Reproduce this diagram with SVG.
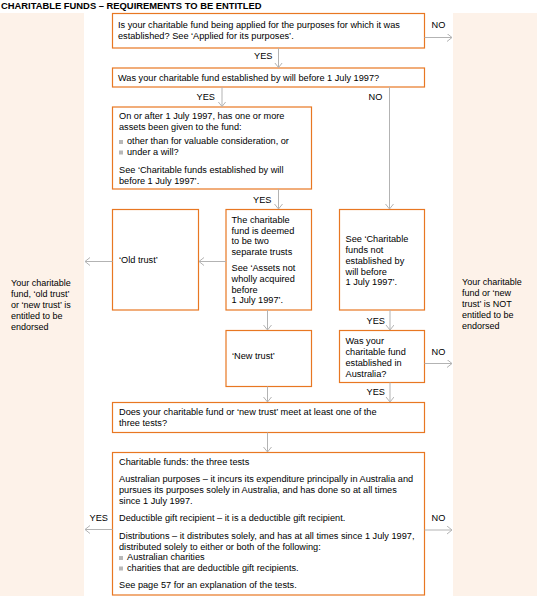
<svg xmlns="http://www.w3.org/2000/svg" width="538" height="598" viewBox="0 0 538 598">
<defs>
<marker id="arr" markerUnits="userSpaceOnUse" markerWidth="8" markerHeight="10" refX="5" refY="4" orient="auto">
<path d="M0,0 L5,4 L0,8" fill="none" stroke="#b3b3b3" stroke-width="1"/>
</marker>
</defs>
<style>
text{font-family:"Liberation Sans",Arial,sans-serif;font-size:9.2px;fill:#000}
.title{font-weight:bold;font-size:9.4px}
.pt{font-size:9px}
.box{fill:#fff;stroke:#e87722;stroke-width:1.2}
.panel{fill:#fdf2e9}
.conn line{stroke:#b3b3b3;stroke-width:1;marker-end:url(#arr)}
.bul{fill:#b8b8b8}
</style>
<rect width="538" height="598" fill="#fff"/>
<text class="title" x="1" y="8.5">CHARITABLE FUNDS – REQUIREMENTS TO BE ENTITLED</text>

<g id="panel-left">
<rect class="panel" x="0" y="13" width="84" height="583"/>
<text class="pt" x="11" y="286">Your charitable</text>
<text class="pt" x="11" y="297">fund, ‘old trust’</text>
<text class="pt" x="11" y="308">or ‘new trust’ is</text>
<text class="pt" x="11" y="319">entitled to be</text>
<text class="pt" x="11" y="330">endorsed</text>
</g>
<g id="panel-right">
<rect class="panel" x="453" y="13" width="84" height="583"/>
<text class="pt" x="462" y="285">Your charitable</text>
<text class="pt" x="462" y="296">fund or ‘new</text>
<text class="pt" x="462" y="307">trust’ is NOT</text>
<text class="pt" x="462" y="318">entitled to be</text>
<text class="pt" x="462" y="329">endorsed</text>
</g>

<g id="q1">
<rect class="box" x="112.5" y="13.5" width="312" height="34.5"/>
<text x="118" y="28">Is your charitable fund being applied for the purposes for which it was</text>
<text x="118" y="39">established? See ‘Applied for its purposes’.</text>
</g>
<g id="q2">
<rect class="box" x="112.5" y="68" width="312" height="19"/>
<text x="118" y="81">Was your charitable fund established by will before 1 July 1997?</text>
</g>
<g id="q3">
<rect class="box" x="112.5" y="107" width="199" height="82"/>
<text x="119" y="119">On or after 1 July 1997, has one or more</text>
<text x="119" y="130">assets been given to the fund:</text>
<rect class="bul" x="119" y="140" width="4" height="4"/>
<text x="127" y="144">other than for valuable consideration, or</text>
<rect class="bul" x="119" y="150.5" width="4" height="4"/>
<text x="127" y="154.5">under a will?</text>
<text x="119" y="172.5">See ‘Charitable funds established by will</text>
<text x="119" y="183.5">before 1 July 1997’.</text>
</g>
<g id="old-trust">
<rect class="box" x="112.5" y="209.5" width="86" height="100.5"/>
<text x="119" y="263">‘Old trust’</text>
</g>
<g id="deemed">
<rect class="box" x="226" y="209.5" width="85.5" height="100.5"/>
<text x="231.5" y="222.5">The charitable</text>
<text x="231.5" y="233.5">fund is deemed</text>
<text x="231.5" y="244">to be two</text>
<text x="231.5" y="255">separate trusts</text>
<text x="231.5" y="271">See ‘Assets not</text>
<text x="231.5" y="282">wholly acquired</text>
<text x="231.5" y="292.5">before</text>
<text x="231.5" y="303">1 July 1997’.</text>
</g>
<g id="not-by-will">
<rect class="box" x="339.5" y="209.5" width="85" height="100.5"/>
<text x="345.5" y="241.5">See ‘Charitable</text>
<text x="345.5" y="252.5">funds not</text>
<text x="345.5" y="263.5">established by</text>
<text x="345.5" y="274.5">will before</text>
<text x="345.5" y="285">1 July 1997’.</text>
</g>
<g id="new-trust">
<rect class="box" x="226" y="330.5" width="85.5" height="56"/>
<text x="232" y="358.5">‘New trust’</text>
</g>
<g id="australia">
<rect class="box" x="339.5" y="330.5" width="85" height="52"/>
<text x="345.5" y="344">Was your</text>
<text x="345.5" y="355">charitable fund</text>
<text x="345.5" y="366">established in</text>
<text x="345.5" y="377">Australia?</text>
</g>
<g id="q-tests">
<rect class="box" x="112.5" y="402.5" width="312" height="30"/>
<text x="119" y="415">Does your charitable fund or ‘new trust’ meet at least one of the</text>
<text x="119" y="426">three tests?</text>
</g>
<g id="tests">
<rect class="box" x="112.5" y="452.5" width="312" height="142.5"/>
<text x="119" y="465">Charitable funds: the three tests</text>
<text x="119" y="481.5">Australian purposes – it incurs its expenditure principally in Australia and</text>
<text x="119" y="492.5">pursues its purposes solely in Australia, and has done so at all times</text>
<text x="119" y="503.5">since 1 July 1997.</text>
<text x="119" y="521">Deductible gift recipient – it is a deductible gift recipient.</text>
<text x="119" y="539">Distributions – it distributes solely, and has at all times since 1 July 1997,</text>
<text x="119" y="549.5">distributed solely to either or both of the following:</text>
<rect class="bul" x="119" y="556" width="4" height="4"/>
<text x="127" y="560">Australian charities</text>
<rect class="bul" x="119" y="566.5" width="4" height="4"/>
<text x="127" y="570.5">charities that are deductible gift recipients.</text>
<text x="119" y="588">See page 57 for an explanation of the tests.</text>
</g>

<g id="connectors" class="conn">
<line x1="424.5" y1="37.5" x2="452" y2="37.5"/>
<line x1="278.5" y1="48" x2="278.5" y2="67.5"/>
<line x1="222" y1="87" x2="222" y2="106.5"/>
<line x1="389.5" y1="87" x2="389.5" y2="209"/>
<line x1="278.5" y1="189" x2="278.5" y2="209"/>
<line x1="226" y1="261.5" x2="199" y2="261.5"/>
<line x1="112.5" y1="261.5" x2="85" y2="261.5"/>
<line x1="267.5" y1="310" x2="267.5" y2="330"/>
<line x1="390" y1="310" x2="390" y2="330"/>
<line x1="424.5" y1="363.5" x2="452" y2="363.5"/>
<line x1="267.5" y1="386.5" x2="267.5" y2="402"/>
<line x1="390" y1="382.5" x2="390" y2="402"/>
<line x1="267.5" y1="432.5" x2="267.5" y2="452"/>
<line x1="112.5" y1="529.5" x2="85" y2="529.5"/>
<line x1="424.5" y1="530" x2="452" y2="530"/>
</g>
<g id="labels">
<text x="431.5" y="28">NO</text>
<text x="254" y="58.5">YES</text>
<text x="196.5" y="100">YES</text>
<text x="368.5" y="100">NO</text>
<text x="253" y="202.5">YES</text>
<text x="366.5" y="323.5">YES</text>
<text x="431.5" y="355">NO</text>
<text x="366.5" y="395">YES</text>
<text x="89.5" y="521">YES</text>
<text x="431.5" y="521">NO</text>
</g>
</svg>
